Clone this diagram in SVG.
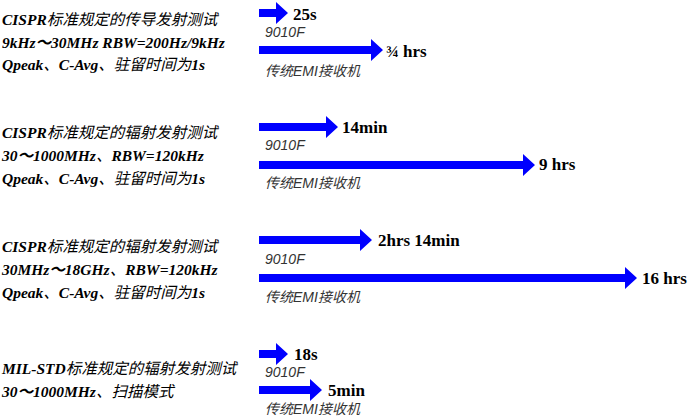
<svg xmlns="http://www.w3.org/2000/svg" width="693" height="420" viewBox="0 0 693 420">
<style>
.l{font-family:"Liberation Serif","Noto Sans CJK SC",serif;font-weight:bold;font-style:italic;font-size:15.5px}
.c{font-weight:normal}
.v{font-family:"Liberation Serif",serif;font-weight:bold;font-size:17px}
.s{font-family:"Liberation Sans","Noto Sans CJK SC",sans-serif;font-style:italic;font-size:14px;fill:#333}
.a{fill:#0000ff}
</style>
<rect width="693" height="420" fill="#fff"/>
<g id="labels">
<text class="l" x="2" y="25">CISPR<tspan class="c">标准规定的传导发射测试</tspan></text>
<text class="l" x="2" y="48">9kHz～30MHz RBW=200Hz/9kHz</text>
<text class="l" x="2" y="70">Qpeak<tspan class="c">、</tspan>C-Avg<tspan class="c">、驻留时间为</tspan>1s</text>
<text class="l" x="2" y="138">CISPR<tspan class="c">标准规定的辐射发射测试</tspan></text>
<text class="l" x="2" y="161">30～1000MHz<tspan class="c">、</tspan>RBW=120kHz</text>
<text class="l" x="2" y="184">Qpeak<tspan class="c">、</tspan>C-Avg<tspan class="c">、驻留时间为</tspan>1s</text>
<text class="l" x="2" y="252">CISPR<tspan class="c">标准规定的辐射发射测试</tspan></text>
<text class="l" x="2" y="275">30MHz～18GHz<tspan class="c">、</tspan>RBW=120kHz</text>
<text class="l" x="2" y="298">Qpeak<tspan class="c">、</tspan>C-Avg<tspan class="c">、驻留时间为</tspan>1s</text>
<text class="l" x="2" y="374">MIL-STD<tspan class="c">标准规定的辐射发射测试</tspan></text>
<text class="l" x="2" y="397">30～1000MHz<tspan class="c">、扫描模式</tspan></text>
</g>
<g id="connectors">
<path class="a" d="M259 9h17v-7l12 11l-12 11v-7h-17z"/>
<path class="a" d="M259 46h112v-7l12 11l-12 11v-7h-112z"/>
<path class="a" d="M259 123h67v-7l12 11l-12 11v-7h-67z"/>
<path class="a" d="M259 161h264v-7l12 11l-12 11v-7h-264z"/>
<path class="a" d="M259 236h101v-7l12 11l-12 11v-7h-101z"/>
<path class="a" d="M259 274h366v-7l12 11l-12 11v-7h-366z"/>
<path class="a" d="M259 350h17v-7l12 11l-12 11v-7h-17z"/>
<path class="a" d="M259 386h51v-7l12 11l-12 11v-7h-51z"/>
</g>
<g id="values">
<text class="v" x="293" y="20">25s</text>
<text class="v" x="386" y="57">¾ hrs</text>
<text class="v" x="342" y="133">14min</text>
<text class="v" x="539" y="170">9 hrs</text>
<text class="v" x="378" y="246">2hrs 14min</text>
<text class="v" x="642" y="284">16 hrs</text>
<text class="v" x="294" y="360">18s</text>
<text class="v" x="328" y="396">5min</text>
</g>
<g id="sublabels">
<text class="s" x="265" y="37">9010F</text>
<text class="s" x="265" y="76">传统EMI接收机</text>
<text class="s" x="265" y="150">9010F</text>
<text class="s" x="265" y="188">传统EMI接收机</text>
<text class="s" x="265" y="264">9010F</text>
<text class="s" x="265" y="302">传统EMI接收机</text>
<text class="s" x="265" y="377">9010F</text>
<text class="s" x="265" y="414">传统EMI接收机</text>
</g>
</svg>
